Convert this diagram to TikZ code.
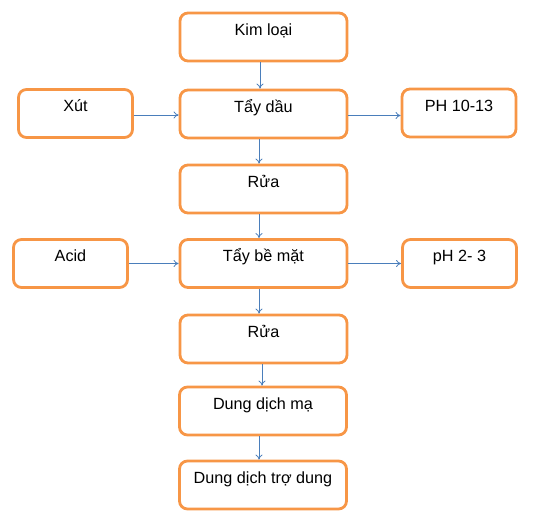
\documentclass[tikz,border=0pt]{standalone}
\usepackage{fontspec}
\setmainfont{Liberation Sans}
\usetikzlibrary{arrows.meta}
\definecolor{boxorange}{HTML}{F79646}
\definecolor{arrblue}{HTML}{4A7EBB}
\begin{document}
\begin{tikzpicture}[x=1pt,y=-1pt,
  box/.style={draw=boxorange, line width=2.8pt, rounded corners=8pt, fill=white,
    inner sep=0pt, text height=22.5pt, text depth=25.5pt, minimum width=167pt,
    font=\fontsize{16.2pt}{19pt}\selectfont},
  sidebox/.style={box, minimum width=114pt},
  arr/.style={draw=arrblue, line width=0.8pt, -{To[length=5pt,width=7pt]}}]
\useasboundingbox (0,0) rectangle (533,521);
\node[box] (kim) at (263.5,37) {Kim loại};
\node[box] (tay) at (263.5,114) {Tẩy dầu};
\node[sidebox] (xut) at (75.5,113.5) {Xút};
\node[sidebox] (ph1) at (459,113) {PH 10-13};
\node[box] (rua1) at (263.5,189) {Rửa};
\node[box] (taybm) at (263.5,263.5) {Tẩy bề mặt};
\node[sidebox] (acid) at (70.5,263.5) {Acid};
\node[sidebox] (ph2) at (459.5,263.5) {pH 2- 3};
\node[box] (rua2) at (263.5,339) {Rửa};
\node[box] (ma) at (263,411) {Dung dịch mạ};
\node[box] (tro) at (263,485) {Dung dịch trợ dung};
\draw[arr] ([xshift=-3.5pt]kim.south) -- ([xshift=-3.5pt]tay.north);
\draw[arr] ([xshift=-4.5pt]tay.south) -- ([xshift=-4.5pt]rua1.north);
\draw[arr] ([xshift=-4.5pt]rua1.south) -- ([xshift=-4.5pt]taybm.north);
\draw[arr] ([xshift=-4.5pt]taybm.south) -- ([xshift=-4.5pt]rua2.north);
\draw[arr] ([xshift=-1.5pt]rua2.south) -- ([xshift=-1pt]ma.north);
\draw[arr] ([xshift=-4pt]ma.south) -- ([xshift=-4pt]tro.north);
\draw[arr] ([yshift=-1.5pt]xut.east) -- ([yshift=-1.5pt]xut.east -| tay.west);
\draw[arr] ([yshift=-1.5pt]tay.east) -- ([yshift=-1.5pt]tay.east -| ph1.west);
\draw[arr] (acid.east) -- (acid.east -| taybm.west);
\draw[arr] (taybm.east) -- (taybm.east -| ph2.west);
\end{tikzpicture}
\end{document}
